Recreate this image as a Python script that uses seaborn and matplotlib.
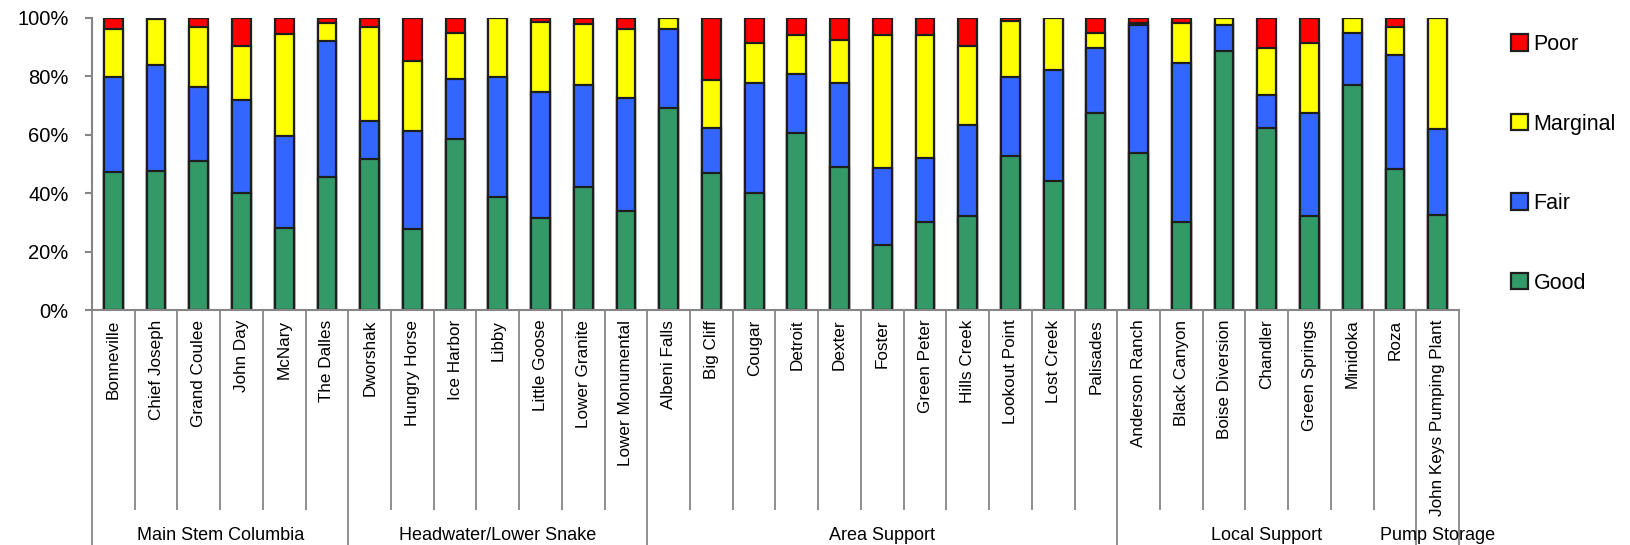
import numpy as np
import pandas as pd
import matplotlib
matplotlib.use("Agg")
import matplotlib.pyplot as plt
from matplotlib.patches import Patch
from matplotlib.ticker import PercentFormatter
import seaborn as sns

plt.rcParams["font.family"] = ["Liberation Sans", "DejaVu Sans"]

# ---- data -------------------------------------------------------------
categories = [
    "Bonneville", "Chief Joseph", "Grand Coulee", "John Day", "McNary", "The Dalles",
    "Dworshak", "Hungry Horse", "Ice Harbor", "Libby", "Little Goose", "Lower Granite",
    "Lower Monumental",
    "Albeni Falls", "Big Cliff", "Cougar", "Detroit", "Dexter", "Foster", "Green Peter",
    "Hills Creek", "Lookout Point", "Lost Creek", "Palisades",
    "Anderson Ranch", "Black Canyon", "Boise Diversion", "Chandler", "Green Springs",
    "Minidoka", "Roza",
    "John Keys Pumping Plant",
]
group_names = ["Main Stem Columbia", "Headwater/Lower Snake", "Area Support",
               "Local Support", "Pump Storage"]
group_sizes = [6, 7, 11, 7, 1]

good = [47.1, 47.7, 51.1, 39.9, 27.9, 45.6,
        51.5, 27.8, 58.4, 38.8, 31.6, 42.0, 33.9,
        69.0, 47.0, 39.9, 60.4, 48.8, 22.2, 30.2, 32.0, 52.7, 44.2, 67.5,
        53.6, 30.2, 88.7, 62.1, 32.2, 77.0, 48.1,
        32.5]
fair = [32.5, 36.0, 25.1, 31.9, 31.6, 46.5,
        13.3, 33.3, 20.7, 41.0, 43.1, 35.0, 38.7,
        27.2, 15.4, 37.6, 20.3, 28.7, 26.3, 21.7, 31.4, 26.9, 37.9, 22.0,
        43.9, 54.2, 8.8, 11.4, 35.1, 17.6, 39.1,
        29.3]
marginal = [16.6, 15.7, 20.7, 18.5, 34.8, 6.0,
            31.9, 24.1, 15.5, 20.2, 23.9, 20.8, 23.5,
            3.8, 16.3, 13.9, 13.4, 14.9, 45.6, 42.2, 26.8, 19.4, 17.9, 5.1,
            0.8, 13.7, 2.5, 16.0, 23.9, 5.4, 9.7,
            38.2]
poor = [3.8, 0.6, 3.1, 9.7, 5.7, 1.9,
        3.3, 14.8, 5.4, 0.0, 1.4, 2.2, 3.9,
        0.0, 21.3, 8.6, 5.9, 7.6, 5.9, 5.9, 9.8, 1.0, 0.0, 5.4,
        1.7, 1.9, 0.0, 10.5, 8.8, 0.0, 3.1,
        0.0]

levels = ["Good", "Fair", "Marginal", "Poor"]
colors = {"Good": "#339966", "Fair": "#3366FF", "Marginal": "#FFFF00", "Poor": "#FF0000"}

df = pd.DataFrame({"Plant": categories, "Good": good, "Fair": fair,
                   "Marginal": marginal, "Poor": poor})
# running totals so each level can be drawn as a bar ending at its cumulative top
cum = df[levels].cumsum(axis=1)

# ---- figure -----------------------------------------------------------
W, H = 1631, 545
fig = plt.figure(figsize=(W / 100, H / 100), dpi=100)
ax_left, ax_right, ax_top, ax_bot = 92, 1459, 17.7, 310
ax = fig.add_axes([ax_left / W, 1 - ax_bot / H,
                   (ax_right - ax_left) / W, (ax_bot - ax_top) / H])

edge = "#1e1e1e"
for lvl in reversed(levels):
    sns.barplot(x=df["Plant"], y=cum[lvl], order=categories, color=colors[lvl],
                saturation=1, width=0.44, edgecolor=edge, linewidth=1.6, ax=ax)

ax.set_xlim(-0.5, len(categories) - 0.5)
ax.set_ylim(0, 100)
ax.set_yticks([0, 20, 40, 60, 80, 100])
ax.yaxis.set_major_formatter(PercentFormatter(decimals=0))
ax.set_xlabel("")
ax.set_ylabel("")

axis_grey = "#868686"
for s in ("top", "right"):
    ax.spines[s].set_visible(False)
for s in ("left", "bottom"):
    ax.spines[s].set_color(axis_grey)
    ax.spines[s].set_linewidth(1.5)

ax.tick_params(axis="y", length=5, width=1.5, color=axis_grey, pad=12,
               labelsize=14.5, labelcolor="#000000")
ax.tick_params(axis="x", length=0, pad=7, labelsize=12.3, rotation=90)
for lab in ax.get_xticklabels():
    lab.set_verticalalignment("top")
    lab.set_horizontalalignment("center")

# ---- two-level category axis: separators and group names --------------
ax_h = ax_bot - ax_top
y_cat = (ax_bot - 510) / ax_h
y_grp = (ax_bot - H) / ax_h
y_lab = (ax_bot - 535) / ax_h
trans = ax.get_xaxis_transform()

bounds = np.cumsum([0] + group_sizes) - 0.5
inner = [b for b in np.arange(0.5, len(categories) - 0.5) if b not in bounds]
ax.vlines(inner, y_cat, 0, transform=trans, colors=axis_grey, lw=1.3, clip_on=False)
ax.vlines(bounds, y_grp, 0, transform=trans, colors=axis_grey, lw=1.3, clip_on=False)
for name, lo, hi in zip(group_names, bounds[:-1], bounds[1:]):
    ax.text((lo + hi) / 2, y_lab, name, transform=trans, ha="center", va="center",
            fontsize=13)

# ---- legend ----------------------------------------------------------
handles = [Patch(facecolor=colors[l], edgecolor=edge, linewidth=1.6, label=l)
           for l in reversed(levels)]
fig.legend(handles=handles, loc="upper left", bbox_to_anchor=(1511 / W, 1 - 34 / H),
           frameon=False, fontsize=15.5, handlelength=0.8, handleheight=0.8,
           handletextpad=0.25, labelspacing=2.72, borderpad=0, borderaxespad=0)

fig.savefig("out.png", dpi=100)
